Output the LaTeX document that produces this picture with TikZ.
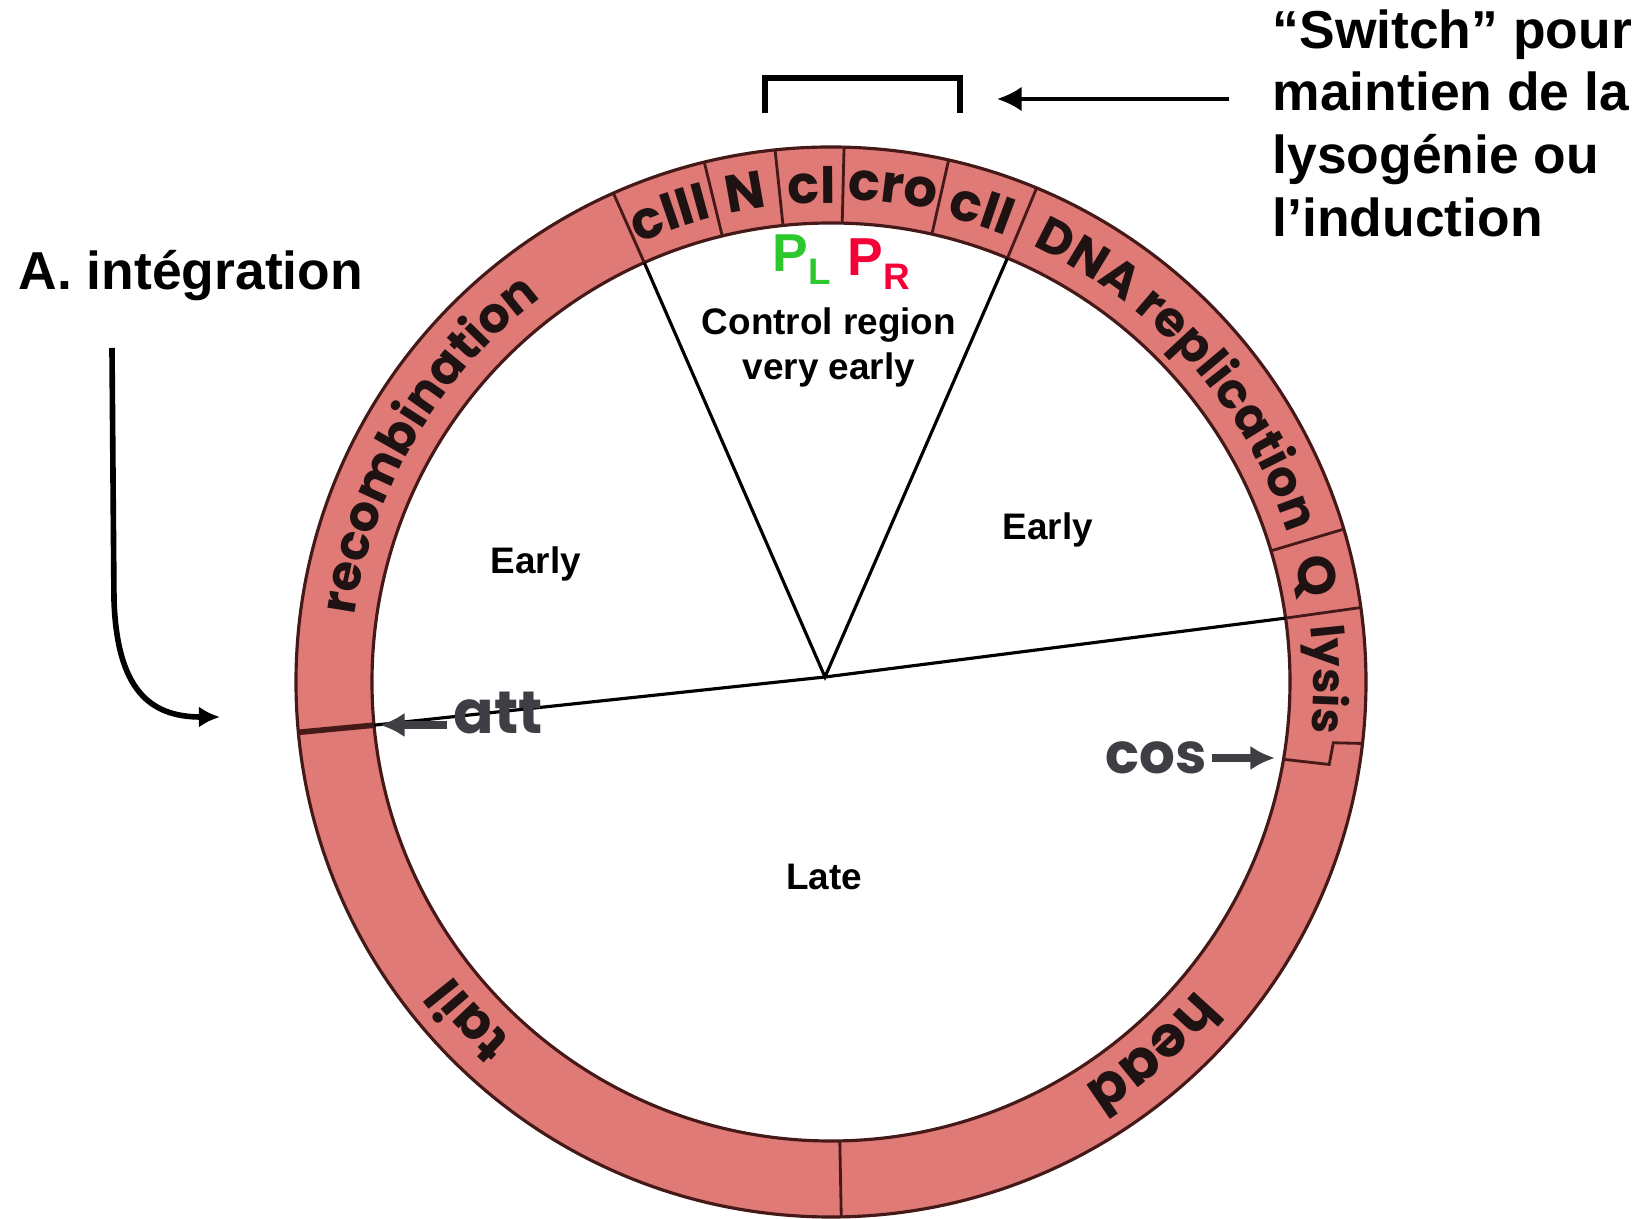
\documentclass[tikz,border=0pt]{standalone}
\usepackage{fontspec}
\setmainfont{Liberation Sans}
\newfontfamily\genefont{Poppins}
\usetikzlibrary{arrows.meta,decorations.text}

\definecolor{ringred}{RGB}{224,122,118}
\definecolor{ringline}{RGB}{70,25,25}
\definecolor{genetext}{RGB}{30,18,18}
\definecolor{markgray}{RGB}{62,62,68}
\definecolor{plgreen}{RGB}{45,200,45}
\definecolor{prred}{RGB}{245,0,55}

% #1 centre angle, #2 font size, #3 baseline radius, #4 text
\newcommand{\genelabel}[4]{%
  \path[decorate, decoration={text along path, text align=center, text color=genetext,
    text={|\genefont\bfseries\fontsize{#2}{#2}\selectfont|#4}}]
    ({#1+40}:#3) arc[start angle={#1+40}, end angle={#1-40}, radius=#3];}

\begin{document}
\begin{tikzpicture}[
    lbl/.style={font=\bfseries\fontsize{10.5}{12.8}\selectfont, inner sep=0pt},
    big/.style={font=\bfseries\fontsize{15.2}{17.8}\selectfont, inner sep=0pt},
    mark/.style={font=\genefont\bfseries\fontsize{#1}{#1}\selectfont, text=markgray, inner sep=0pt},
    divider/.style={ringline, line width=0.8pt},
    markarrow/.style={markgray, line width=2pt, -{Latex[length=7pt, width=7pt]}},
    callout/.style={black, line width=1.6pt, -{Latex[length=6pt, width=6pt]}}]
    \useasboundingbox (-8.31,-5.37) rectangle (8.06,6.82);

    % ring
    \fill[ringred, even odd rule] (0,0) circle (5.35) (0,0) circle (4.59);
    \draw[ringline, line width=0.9pt] (0,0) circle (5.35);
    \draw[ringline, line width=0.9pt] (0,0) circle (4.59);

    % gene borders
    \draw[divider] (114:4.59) -- (114:5.35);
    \draw[divider] (103.7:4.59) -- (103.7:5.35);
    \draw[divider] (96:4.59) -- (96:5.35);
    \draw[divider] (88.6:4.59) -- (88.6:5.35);
    \draw[divider] (77.3:4.59) -- (77.3:5.35);
    \draw[divider] (67.4:4.59) -- (67.4:5.35);
    \draw[divider] (16.6:4.59) -- (16.6:5.35);
    \draw[divider] (8:4.59) -- (8:5.35);
    \draw[divider] (-9.7:4.59) -- (-9.4:5.05) -- (-6.9:5.06) -- (-6.6:5.35);
    \draw[divider] (-88.9:4.59) -- (-88.9:5.35);
    \draw[divider, line width=1.6pt] (185.4:4.59) -- (185.4:5.35);

    % gene names
    \genelabel{149.5}{14}{4.81}{recombination}
    \genelabel{109}{15}{4.79}{cIII}
    \genelabel{100}{15}{4.79}{N}
    \genelabel{92.2}{15}{4.79}{cI}
    \genelabel{82.8}{15}{4.83}{cro}
    \genelabel{72.3}{15}{4.79}{cII}
    \genelabel{41.6}{14}{4.80}{DNA replication}
    \genelabel{12.3}{15}{4.79}{Q}
    \genelabel{0.3}{13}{4.83}{lysis}
    \genelabel{-49}{16}{4.77}{head}
    \genelabel{223}{15}{4.79}{tail}

    % sectors
    \coordinate (ctr) at (-0.06,0.05);
    \coordinate (cl) at (114:4.59);
    \coordinate (cr) at (67.4:4.59);
    \coordinate (er) at (8:4.59);
    \coordinate (el) at (185.4:4.59);
    \draw[line width=0.9pt] (cl) -- (ctr) -- (cr);
    \draw[line width=0.9pt] (el) -- (ctr) -- (er);

    \node at (-0.59,4.10) [big, anchor=base west, text=plgreen] (pl) {P\raisebox{-3.7pt}{\fontsize{10.5}{10.5}\selectfont L}};
    \node at (0.16,4.06) [big, anchor=base west, text=prred] (pr) {P\raisebox{-3.9pt}{\fontsize{10.5}{10.5}\selectfont R}};
    \node at (-0.02,3.35) [lbl, align=center] (ctrl) {Control region\\very early};
    \node at (-2.95,1.18) [lbl] (earlyl) {Early};
    \node at (2.17,1.52) [lbl] (earlyr) {Early};
    \node at (-0.07,-1.95) [lbl] (late) {Late};

    % att and cos
    \node at (-3.78,-0.52) [mark=17, anchor=base west] (att) {att};
    \coordinate (atttail) at (-3.84,-0.43);
    \coordinate (atttip) at (-4.51,-0.43);
    \draw[markarrow] (atttail) -- (atttip);
    \node at (2.74,-0.92) [mark=16, anchor=base west] (cos) {cos};
    \coordinate (costail) at (3.81,-0.76);
    \coordinate (costip) at (4.44,-0.76);
    \draw[markarrow] (costail) -- (costip);

    % switch bracket
    \coordinate (brl) at (-0.66,5.69);
    \coordinate (brr) at (1.29,5.69);
    \draw[line width=1.7pt] (brl) |- (1.29,6.04) -- (brr);
    \node at (4.41,6.73) [big, anchor=north west, align=left] (switch) {“Switch” pour\\maintien de la\\lysogénie ou\\l’induction};
    \coordinate (swtail) at (3.98,5.83);
    \coordinate (swtip) at (1.66,5.83);
    \draw[callout, line width=1.1pt, -{Latex[length=7pt, width=7pt]}] (swtail) -- (swtip);

    % integration
    \node at (-8.13,3.92) [big, anchor=base west] (integ) {A. intégration};
    \coordinate (intail) at (-7.19,3.34);
    \coordinate (intip) at (-6.11,-0.35);
    \draw[callout] (intail) -- (-7.17,0.82) .. controls (-7.14,-0.08) and (-6.81,-0.35) .. (intip);
\end{tikzpicture}
\end{document}
